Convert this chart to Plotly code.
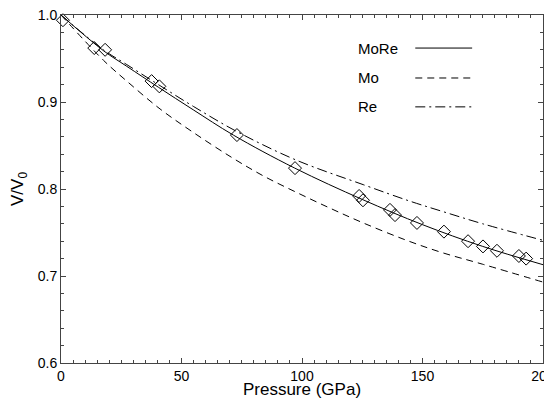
import plotly.graph_objects as go

# Measured data (diamonds)
exp_p = [0.8, 13.8, 18.3, 37.6, 40.8, 73.0, 97.1, 123.7, 125.3, 136.5, 138.6, 147.7, 158.9, 168.9, 175.1, 180.9, 190.0, 193.0]
exp_v = [0.994, 0.962, 0.960, 0.924, 0.918, 0.862, 0.824, 0.792, 0.787, 0.776, 0.770, 0.761, 0.751, 0.740, 0.734, 0.729, 0.723, 0.720]

# Curves
more_p = [0, 17.6, 27.3, 40.4, 54.9, 71.5, 97, 125, 150, 175, 200]
more_v = [1.0, 0.959, 0.941, 0.917, 0.891, 0.862, 0.824, 0.788, 0.759, 0.734, 0.713]

mo_p = [0, 17.6, 27.3, 41.1, 54.9, 71, 84, 97.8, 111.6, 125.4, 143.4, 158, 175, 200]
mo_v = [1.0, 0.948, 0.924, 0.892, 0.865, 0.836, 0.815, 0.796, 0.778, 0.761, 0.741, 0.727, 0.7135, 0.693]

re_p = [0, 17.6, 27.3, 40.4, 54.9, 73, 97.8, 125.4, 144.8, 158.5, 175, 200]
re_v = [1.0, 0.960, 0.943, 0.920, 0.895, 0.866, 0.833, 0.805, 0.786, 0.774, 0.760, 0.741]

legend_names = ["MoRe", "Mo", "Re"]
x_ticks = [0, 50, 100, 150, 200]
y_ticks = [0.6, 0.7, 0.8, 0.9, 1.0]

FONT = "Liberation Sans, Arial, Helvetica, sans-serif"

fig = go.Figure()
fig.add_trace(go.Scatter(x=more_p, y=more_v, mode="lines", line=dict(color="black", width=1, shape="spline"), name="MoRe"))
fig.add_trace(go.Scatter(x=mo_p, y=mo_v, mode="lines", line=dict(color="black", width=1, dash="7px,5px", shape="spline"), name="Mo"))
fig.add_trace(go.Scatter(x=re_p, y=re_v, mode="lines", line=dict(color="black", width=1, dash="10px,4px,2px,4px", shape="spline"), name="Re"))
fig.add_trace(go.Scatter(x=exp_p, y=exp_v, mode="markers", cliponaxis=False,
                         marker=dict(symbol="diamond-open", size=10, color="black", line=dict(width=1)),
                         name="exp"))

# Legend drawn manually (text left of line sample)
dashes = ["solid", "7px,5px", "10px,4px,2px,4px"]
ys = [0.905, 0.819, 0.736]
for name, d, yy in zip(legend_names, dashes, ys):
    fig.add_annotation(x=0.612, y=yy, xref="paper", yref="paper", text=name, showarrow=False,
                       xanchor="left", yanchor="middle", font=dict(family=FONT, size=15, color="black"))
    fig.add_shape(type="line", xref="paper", yref="paper", x0=0.735, x1=0.853, y0=yy, y1=yy,
                  line=dict(color="black", width=1, dash=d))

axis_common = dict(
    showgrid=False, zeroline=False, showline=True, linecolor="#444", linewidth=1, mirror="ticks",
    ticks="inside", ticklen=5, tickcolor="#444", tickwidth=1, automargin=False,
    ticklabeloverflow="allow",
    tickfont=dict(family=FONT, size=14, color="black"),
)
fig.update_xaxes(range=[0, 200], tickvals=x_ticks, ticktext=[str(v) for v in x_ticks],
                 minor=dict(dtick=5, ticks="inside", ticklen=3, tickcolor="#444", showgrid=False),
                 title=dict(text="Pressure (GPa)", font=dict(family=FONT, size=17, color="black"), standoff=2),
                 **axis_common)
fig.update_yaxes(range=[0.6, 1.0], tickvals=y_ticks, ticktext=[f"{v:.1f}" for v in y_ticks],
                 minor=dict(dtick=0.02, ticks="inside", ticklen=3, tickcolor="#444", showgrid=False),
                 title=dict(text="V/V<sub>0</sub>", font=dict(family=FONT, size=17, color="black"), standoff=9),
                 **axis_common)

# The page body adds ~8px offset; size the figure so the plot area lands where the reference has it
fig.update_layout(width=552, height=391, margin=dict(l=53, r=17, t=7, b=36),
                  plot_bgcolor="white", paper_bgcolor="white", showlegend=False)

fig.write_html("out.html")
